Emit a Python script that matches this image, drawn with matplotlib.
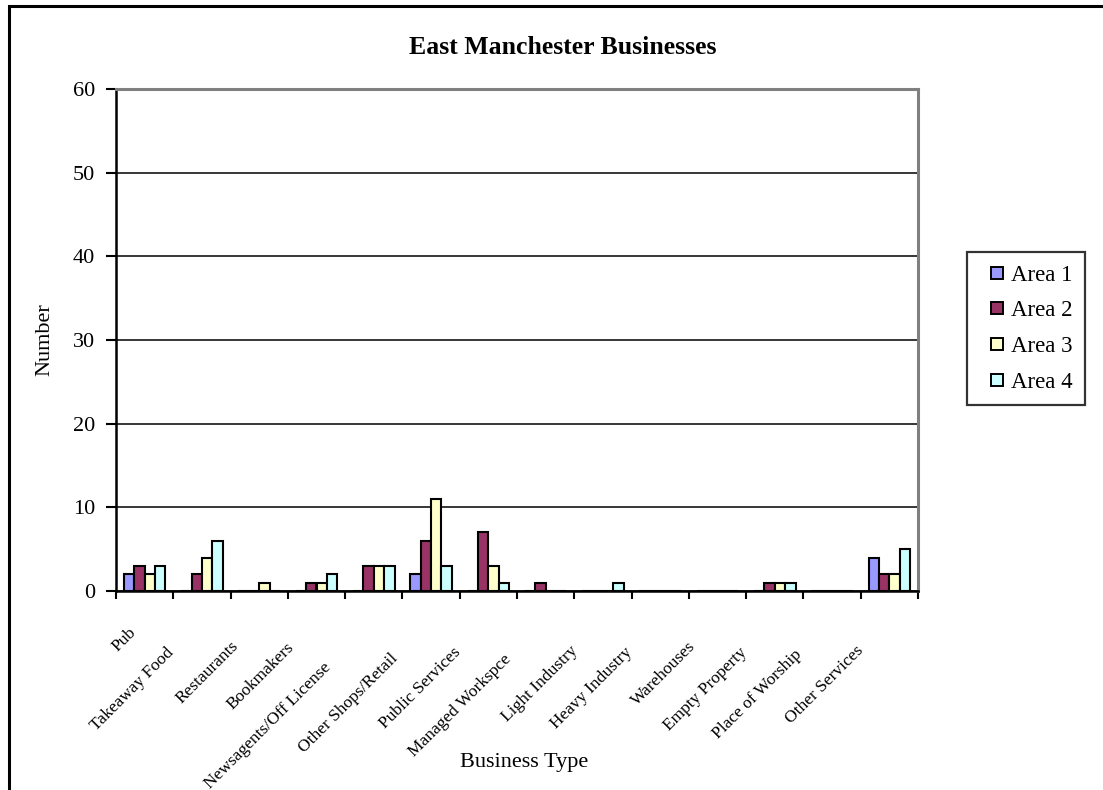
import numpy as np
import matplotlib
matplotlib.use("Agg")
import matplotlib.pyplot as plt
from matplotlib.patches import Rectangle
from matplotlib.lines import Line2D
from matplotlib.transforms import offset_copy

plt.rcParams['font.family'] = ['Liberation Serif', 'DejaVu Serif']

categories = ["Pub", "Takeaway Food", "Restaurants", "Bookmakers",
              "Newsagents/Off License", "Other Shops/Retail", "Public Services",
              "Managed Workspce", "Light Industry", "Heavy Industry",
              "Warehouses", "Empty Property", "Place of Worship", "Other Services"]
area1 = [2, 0, 0, 0, 0, 2, 0, 0, 0, 0, 0, 0, 0, 4]
area2 = [3, 2, 0, 1, 3, 6, 7, 1, 0, 0, 0, 1, 0, 2]
area3 = [2, 4, 1, 1, 3, 11, 3, 0, 0, 0, 0, 1, 0, 2]
area4 = [3, 6, 0, 2, 3, 3, 1, 0, 1, 0, 0, 1, 0, 5]
series_names = ["Area 1", "Area 2", "Area 3", "Area 4"]
series_colors = ["#9999FF", "#993366", "#FFFFCC", "#CCFFFF"]
y_ticks = [0, 10, 20, 30, 40, 50, 60]

W, H = 1103, 790
fig = plt.figure(figsize=(W / 100, H / 100), dpi=100)
fig.patch.set_facecolor("white")

# outer chart frame (runs off the right and bottom edges)
fig.patches.append(Rectangle((8.5 / W, -0.2), 2.0, 1 - 5.5 / H + 0.2,
                             transform=fig.transFigure, fill=False,
                             edgecolor="black", linewidth=2.2))

ax = fig.add_axes([116 / W, 1 - 591 / H, (918 - 116) / W, (591 - 89) / H])
n = len(categories)
x = np.arange(n)
bw = 0.182
for k, (vals, col, name) in enumerate(zip([area1, area2, area3, area4],
                                          series_colors, series_names)):
    ax.bar(x + (k - 1.5) * bw, vals, bw, color=col, edgecolor="black",
           linewidth=1.5, label=name, zorder=3)

ax.set_xlim(-0.5, n - 0.5)
ax.set_ylim(0, 60)
ax.set_yticks(y_ticks)
ax.set_yticklabels([str(v) for v in y_ticks], fontsize=16)
ax.set_axisbelow(True)
ax.yaxis.grid(True, color="black", linewidth=1.1)
ax.set_xticks(np.arange(-0.5, n, 1.0))
ax.set_xticklabels([])
ax.tick_params(axis="x", direction="out", length=6, width=1.5, color="black")
ax.tick_params(axis="y", direction="out", length=7, width=1.5, color="black", pad=8)
for side in ("left", "bottom"):
    ax.spines[side].set_color("black")
    ax.spines[side].set_linewidth(1.8)
for side in ("top", "right"):
    ax.spines[side].set_color("#808080")
    ax.spines[side].set_linewidth(2.2)

# rotated category labels, positioned from their rendered length
fig.canvas.draw()
renderer = fig.canvas.get_renderer()
cat_fs = 12.5
for i, lab in enumerate(categories):
    probe = fig.text(0, 0, lab, fontsize=cat_fs)
    L = probe.get_window_extent(renderer).width
    probe.remove()
    dx = -4 - 0.24 * L
    dy = -(33 + 0.24 * L)
    tr = offset_copy(ax.transData, fig=fig, x=dx, y=dy, units="dots")
    ax.text(i, 0, lab, transform=tr, fontsize=cat_fs, rotation=45,
            rotation_mode="anchor", ha="right", va="center", clip_on=False)

fig.text(563 / W, 1 - 47 / H, "East Manchester Businesses", fontsize=18.5,
         fontweight="bold", ha="center", va="center")
fig.text(45 / W, 1 - 340 / H, "Number", fontsize=16, rotation=90,
         ha="center", va="center")
fig.text(524 / W, 1 - 763 / H, "Business Type", fontsize=16,
         ha="center", va="center")

# legend with small square keys
handles = [Line2D([], [], linestyle="none", marker="s", markersize=8,
                  markerfacecolor=c, markeredgecolor="black",
                  markeredgewidth=1.4) for c in series_colors]
leg = fig.legend(handles, series_names, loc="upper left",
                 bbox_to_anchor=(967 / W, 1 - 252 / H),
                 bbox_transform=fig.transFigure, borderaxespad=0,
                 fontsize=16.5, frameon=True, fancybox=False,
                 edgecolor="black", handlelength=1.5,
                 handletextpad=-0.15, labelspacing=0.64, borderpad=0.55)
leg.get_frame().set_linewidth(1.6)

fig.savefig("out.png", dpi=100, facecolor="white")
